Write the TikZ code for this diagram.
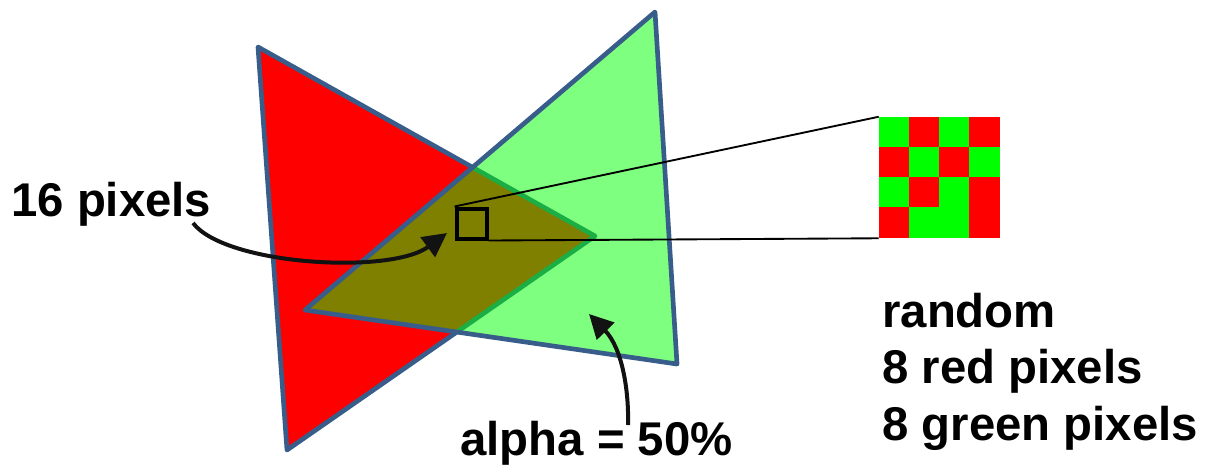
\documentclass[tikz,border=0pt]{standalone}
\usepackage{fontspec}
\setmainfont{Liberation Sans}
\usetikzlibrary{arrows.meta, positioning, calc}
\definecolor{outlineblue}{RGB}{56,93,138}
\definecolor{pixr}{RGB}{255,0,0}
\definecolor{pixg}{RGB}{0,255,0}

\begin{document}
\begin{tikzpicture}[
    x=0.75pt, y=-0.75pt,
    tri/.style={draw=outlineblue, line width=3.5pt, line join=round},
    lbl/.style={inner sep=0pt, anchor=base west, align=left, font=\bfseries\fontsize{35.5}{42.3}\selectfont},
    arrow/.style={-{Triangle[length=18pt, width=18pt]}, line width=3pt, draw=black!93},
    zoomline/.style={draw=black, line width=1.4pt}
  ]
  \useasboundingbox (0,0) rectangle (1209,469);

  % the two triangles, green one at 50% alpha
  \coordinate (ra) at (258,47);
  \coordinate (rb) at (595,236);
  \coordinate (rc) at (287,450);
  \coordinate (ga) at (655,12);
  \coordinate (gb) at (677,364);
  \coordinate (gc) at (305,310);
  \filldraw[tri, fill=pixr] (ra) -- (rb) -- (rc) -- cycle;
  \filldraw[tri, fill=pixg, fill opacity=0.5] (ga) -- (gb) -- (gc) -- cycle;

  % sampled area and its 16 pixels
  \node[draw, line width=3pt, minimum width=22.5pt, minimum height=22.5pt, inner sep=0pt] (sq) at (471.5,223.5) {};
  \node[minimum size=90.75pt, inner sep=0pt] (grid) at (939.5,177.5) {};
  \foreach \c [count=\i from 0] in {g,r,g,r, r,g,r,g, g,r,g,r, r,g,g,r} {
    \pgfmathtruncatemacro{\col}{mod(\i,4)}
    \pgfmathtruncatemacro{\row}{\i/4}
    \fill[pix\c] ($(grid.north west)+(\col*30.25,\row*30.25)$) rectangle +(30.25,30.25);
  }
  \draw[zoomline] (sq.north west) -- (grid.north west);
  \draw[zoomline] (sq.south east) -- (grid.south west);

  % labels
  \node[lbl] (sixteen) at (11,216) {16 pixels};
  \node[lbl] (alpha) at (460,455) {alpha = 50\%};
  \node[lbl] (random) at (882,440) {random\\8 red pixels\\8 green pixels};

  % pointers
  \coordinate (t1) at (193,223);
  \coordinate (h1) at (447,233);
  \coordinate (t2) at (628,425);
  \coordinate (h2) at (589,314);
  \draw[arrow] (t1) .. controls (225,265) and (390,275) .. (h1);
  \draw[arrow] (t2) .. controls (629,390) and (622,348) .. (h2);
\end{tikzpicture}
\end{document}
